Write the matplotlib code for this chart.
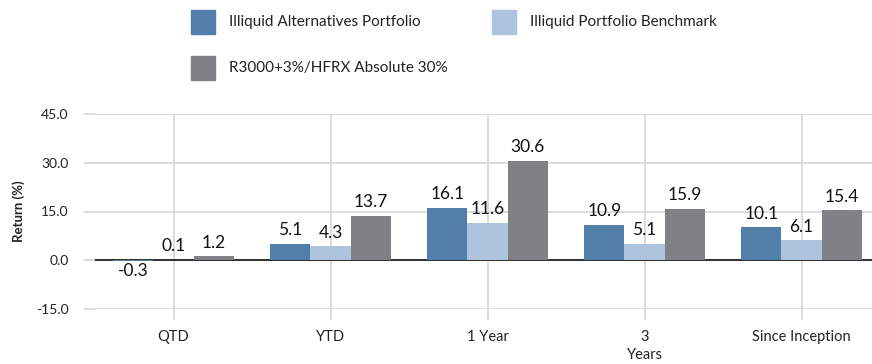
import numpy as np
import matplotlib.pyplot as plt
from matplotlib.patches import Rectangle

plt.rcParams['font.family'] = ['Lato', 'DejaVu Sans']

periods = ['QTD', 'YTD', '1 Year', '3\nYears', 'Since Inception']
series_names = ['Illiquid Alternatives Portfolio', 'Illiquid Portfolio Benchmark',
                'R3000+3%/HFRX Absolute 30%']
portfolio = [-0.3, 5.1, 16.1, 10.9, 10.1]
benchmark = [0.1, 4.3, 11.6, 5.1, 6.1]
r3000_hfrx = [1.2, 13.7, 30.6, 15.9, 15.4]
colors = ['#527faa', '#adc3de', '#808184']
yticks = [-15, 0, 15, 30, 45]

fig = plt.figure(figsize=(8.72, 3.64), dpi=100)
ax = fig.add_axes([95/872, 55/364, 785/872, 195/364])

x = np.arange(len(periods))
w = 0.255
grid_c = '#d9d9d9'
for i, (vals, c) in enumerate(zip([portfolio, benchmark, r3000_hfrx], colors)):
    bars = ax.bar(x + (i - 1) * w, vals, w, color=c, zorder=3)
    for b, v in zip(bars, vals):
        off = 4 if v >= 0 else -1
        ax.annotate(f'{v:.1f}', (b.get_x() + b.get_width() / 2, v),
                    xytext=(0, off), textcoords='offset points',
                    ha='center', va='bottom' if v >= 0 else 'top',
                    fontsize=12.5, color='#111111', zorder=4)

ax.axhline(0, color='black', lw=1.1, zorder=2.5)
ax.set_xlim(-0.5, 4.5)
ax.set_ylim(-15, 45)
ax.set_yticks(yticks)
ax.set_yticklabels([f'{t:.1f}' for t in yticks])
ax.set_xticks(x)
ax.set_xticklabels(periods, linespacing=1.35)
ax.grid(True, color=grid_c, lw=1.3, zorder=0)
for s in ax.spines.values():
    s.set_visible(False)
ax.tick_params(axis='y', length=8, color=grid_c, width=1.3, labelsize=10, pad=11, labelcolor='#222222')
ax.tick_params(axis='x', length=8, color=grid_c, width=1.3, labelsize=10.5, pad=7, labelcolor='#222222')
ax.set_ylabel('Return (%)', fontsize=9.5, fontweight='bold', labelpad=8, color='#222222')

# legend drawn by hand in figure pixels
legend_pos = [(191, 10), (492, 10), (191, 56)]
for (px, py), name, c in zip(legend_pos, series_names, colors):
    fig.patches.append(Rectangle((px / 872, 1 - (py + 24) / 364), 24 / 872, 24 / 364,
                                 transform=fig.transFigure, color=c))
    fig.text((px + 38) / 872, 1 - (py + 12) / 364, name, fontsize=11,
             va='center', ha='left', color='#222222')

fig.savefig('out.png', dpi=100)
